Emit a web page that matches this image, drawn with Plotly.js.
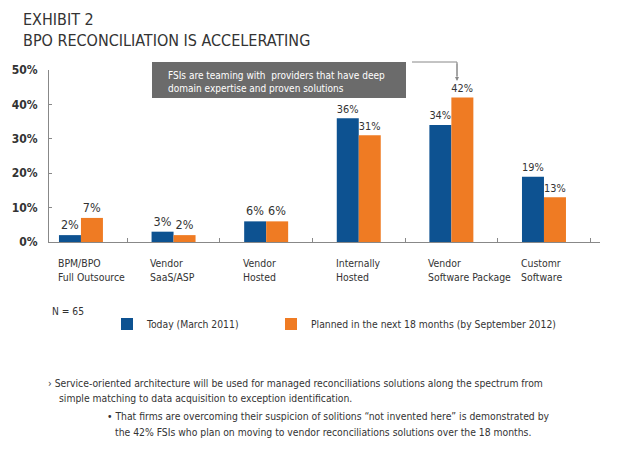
<!DOCTYPE html>
<html>
<head>
<meta charset="utf-8">
<script src="https://cdn.plot.ly/plotly-3.0.1.min.js"></script>
<style>html,body{margin:0;padding:0;background:#fff;}#chart{width:620px;height:455px;}</style>
</head>
<body>
<div id="chart"></div>
<script>
const categories = ["BPM/BPO|Full Outsource", "Vendor|SaaS/ASP", "Vendor|Hosted", "Internally|Hosted", "Vendor|Software Package", "Customr|Software"];
const todayValues = [2, 3, 6, 36, 34, 19];
const plannedValues = [7, 2, 6, 31, 42, 13];
const seriesNames = ["Today (March 2011)", "Planned in the next 18 months (by September 2012)"];
const yTickValues = [0, 10, 20, 30, 40, 50];
const yTickLabels = ["0%", "10%", "20%", "30%", "40%", "50%"];
const titleLines = ["EXHIBIT 2", "BPO RECONCILIATION IS ACCELERATING"];
const calloutLines = ["FSIs are teaming with&nbsp; providers that have deep", "domain expertise and proven solutions"];
const sampleNote = "N = 65";
const noteLines = [
  "› Service-oriented architecture will be used for managed reconciliations solutions along the spectrum from",
  "simple matching to data acquisition to exception identification.",
  "• That firms are overcoming their suspicion of solitions “not invented here” is demonstrated by",
  "the 42% FSIs who plan on moving to vendor reconciliations solutions over the 18 months."
];

const FONT = "'DejaVu Sans Condensed', 'DejaVu Sans', sans-serif";
const W = 620, H = 455, L = 49, R = 20, T = 70, B = 213;
const PW = W - L - R, PH = H - T - B;
const xp = px => (px - L) / PW;
const yp = py => (H - B - py) / PH;

const idx = categories.map((c, i) => i);

const traces = [
  {type: 'bar', name: seriesNames[0], x: idx, y: todayValues, legend: 'legend',
   marker: {color: '#0d5291'}, texttemplate: '%{y}%', textposition: 'outside',
   textfont: {family: FONT, size: 12.5, color: '#333'}, cliponaxis: false, hoverinfo: 'none'},
  {type: 'bar', name: seriesNames[1], x: idx, y: plannedValues, legend: 'legend2',
   marker: {color: '#ef7b23'}, texttemplate: '%{y}%', textposition: 'outside',
   textfont: {family: FONT, size: 12.5, color: '#333'}, cliponaxis: false, hoverinfo: 'none'}
];

const annotations = [];
categories.forEach((c, i) => {
  const parts = c.split('|');
  parts.forEach((p, j) => {
    annotations.push({xref: 'x', yref: 'paper', x: i - 0.24, y: yp(263 + 14 * j), xanchor: 'left', yanchor: 'middle',
      xshift: -3, align: 'left', showarrow: false, text: p,
      font: {family: FONT, size: 10.4, color: '#333'}});
  });
});
annotations.push({xref: 'paper', yref: 'paper', x: xp(166), y: yp(82), xanchor: 'left', yanchor: 'middle',
  align: 'left', showarrow: false, text: calloutLines.join('<br>'),
  font: {family: FONT, size: 10, color: '#ffffff'}});
annotations.push({xref: 'paper', yref: 'paper', x: xp(457), y: yp(81), ax: 0, ay: -19,
  showarrow: true, arrowhead: 2, arrowsize: 0.8, arrowwidth: 1, arrowcolor: '#888', text: ''});
annotations.push({xref: 'paper', yref: 'paper', x: xp(50), y: yp(311), xanchor: 'left', yanchor: 'middle',
  showarrow: false, text: sampleNote, font: {family: FONT, size: 10.2, color: '#333'}});
const notePos = [[46, 383], [57, 398], [105, 416], [113, 432]];
noteLines.forEach((t, i) => {
  annotations.push({xref: 'paper', yref: 'paper', x: xp(notePos[i][0]), y: yp(notePos[i][1]),
    xanchor: 'left', yanchor: 'middle', showarrow: false, text: t,
    font: {family: FONT, size: 10.3, color: '#333'}});
});

const shapes = [
  {type: 'rect', xref: 'paper', yref: 'paper', x0: xp(152), x1: xp(406), y0: yp(98), y1: yp(62),
   fillcolor: '#6b6b6b', line: {width: 0}, layer: 'above'},
  {type: 'path', xref: 'paper', yref: 'paper',
   path: `M ${xp(412)} ${yp(62)} L ${xp(457)} ${yp(62)} L ${xp(457)} ${yp(76)}`,
   line: {color: '#888', width: 1}}
];

const legendBase = {orientation: 'h', xanchor: 'left', yanchor: 'middle', y: yp(324),
  font: {family: FONT, size: 10.3, color: '#333'}, bgcolor: 'rgba(0,0,0,0)'};

const layout = {
  width: W, height: H,
  margin: {l: L, r: R, t: T, b: B, pad: 0},
  paper_bgcolor: '#fff', plot_bgcolor: '#fff',
  font: {family: FONT, color: '#333'},
  title: {text: titleLines.join('<br>'), x: 23 / W, xanchor: 'left', xref: 'container',
    y: 1 - 25 / H, yanchor: 'top', yref: 'container',
    font: {family: FONT, size: 16, color: '#333'}},
  barmode: 'group', bargap: 0.525, bargroupgap: 0,
  showlegend: true,
  legend: Object.assign({}, legendBase, {x: xp(107)}),
  legend2: Object.assign({}, legendBase, {x: xp(271)}),
  xaxis: {type: 'linear', range: [-0.345, 5.605], showgrid: false, zeroline: false,
    showline: true, linecolor: '#888', linewidth: 1,
    tickvals: idx.map(i => i + 0.5), ticks: 'inside', ticklen: 4, tickcolor: '#888',
    showticklabels: false, fixedrange: true},
  yaxis: {range: [0, 50], showgrid: false, zeroline: false, showline: true, linecolor: '#888', linewidth: 1,
    tickvals: yTickValues, ticktext: yTickLabels, ticks: 'inside', ticklen: 3, tickcolor: '#888',
    tickfont: {family: FONT, size: 12, color: '#333', weight: 'bold'}, ticklabelstandoff: 8, fixedrange: true},
  annotations: annotations,
  shapes: shapes
};

Plotly.newPlot('chart', traces, layout, {displayModeBar: false, staticPlot: true});
</script>
</body>
</html>
